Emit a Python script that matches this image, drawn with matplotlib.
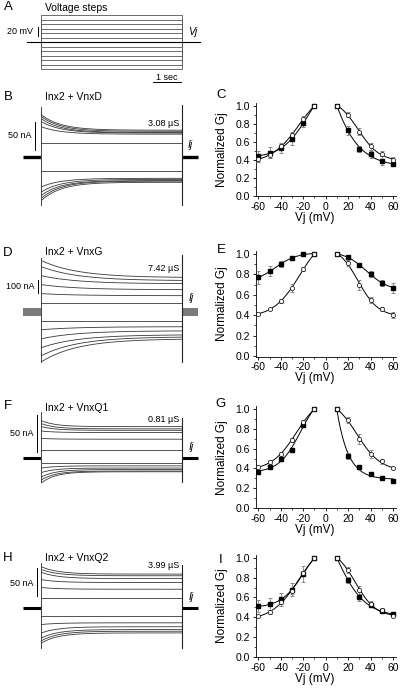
import numpy as np
import matplotlib
matplotlib.use('Agg')
import matplotlib.pyplot as plt
from matplotlib.ticker import MultipleLocator, FormatStrFormatter

plt.rcParams['font.family'] = ['Liberation Sans', 'DejaVu Sans']
plt.rcParams['axes.unicode_minus'] = False

# ---- data -------------------------------------------------------------
STEP_MV = [-60, -50, -40, -30, -20, -10, 10, 20, 30, 40, 50, 60]
VJ = [-60, -50, -40, -30, -20, -10, 10, 20, 30, 40, 50, 60]

# junctional currents (nA) at the end (ss) and start (pk) of the pulse, Vj = 10..60 mV
B_UP_SS = [25, 40, 42, 43, 45, 47]
B_UP_PK = [25, 53, 62, 67, 71, 74]
B_DN_SS = [-25, -38, -40, -42, -43, -45]
B_DN_PK = [-25, -53, -62, -68, -73, -77]

D_UP_SS = [71, 126, 173, 220, 244, 268]
D_UP_PK = [71, 142, 213, 283, 354, 402]
D_DN_SS = [-71, -118, -150, -181, -197, -213]
D_DN_PK = [-71, -142, -213, -283, -346, -394]

F_UP_SS = [11, 25, 34, 37, 39, 42]
F_UP_PK = [11, 26, 36, 42, 46, 50]
F_DN_SS = [-7, -11, -14, -16, -18, -19]
F_DN_PK = [-7, -14, -20, -26, -30, -34]

H_UP_SS = [18, 33, 45, 52, 57, 60]
H_UP_PK = [18, 36, 50, 63, 68, 73]
H_DN_SS = [-15, -27, -34, -39, -42, -45]
H_DN_PK = [-15, -30, -45, -54, -59, -63]

# normalized Gj: filled squares / open circles, with SEM
C_FILL = [0.44, 0.48, 0.53, 0.63, 0.81, 1.0, 1.0, 0.73, 0.52, 0.46, 0.39, 0.35]
C_FILL_ERR = [0.06, 0.06, 0.05, 0.07, 0.05, 0, 0, 0.05, 0.03, 0.04, 0.05, 0.02]
C_OPEN = [0.41, 0.45, 0.55, 0.68, 0.85, 1.0, 1.0, 0.90, 0.71, 0.55, 0.47, 0.40]
C_OPEN_ERR = [0.03, 0.03, 0.04, 0.03, 0.04, 0, 0, 0.03, 0.04, 0.04, 0.03, 0.03]

E_FILL = [0.77, 0.83, 0.90, 0.96, 1.0, 1.0, 1.0, 0.97, 0.89, 0.80, 0.72, 0.67]
E_FILL_ERR = [0.06, 0.05, 0.03, 0.02, 0.01, 0, 0, 0.01, 0.02, 0.03, 0.03, 0.05]
E_OPEN = [0.41, 0.46, 0.54, 0.67, 0.85, 1.0, 1.0, 0.91, 0.70, 0.55, 0.46, 0.40]
E_OPEN_ERR = [0.01, 0.01, 0.02, 0.04, 0.02, 0, 0, 0.03, 0.05, 0.03, 0.02, 0.03]

G_FILL = [0.36, 0.41, 0.49, 0.59, 0.84, 1.0, 1.0, 0.53, 0.41, 0.34, 0.30, 0.27]
G_FILL_ERR = [0.01, 0.01, 0.02, 0.02, 0.02, 0, 0, 0.03, 0.02, 0.02, 0.02, 0.01]
G_OPEN = [0.41, 0.46, 0.55, 0.69, 0.87, 1.0, 1.0, 0.89, 0.70, 0.55, 0.47, 0.40]
G_OPEN_ERR = [0.01, 0.02, 0.02, 0.02, 0.02, 0, 0, 0.03, 0.05, 0.04, 0.03, 0.01]

I_FILL = [0.51, 0.53, 0.58, 0.68, 0.84, 1.0, 1.0, 0.78, 0.60, 0.52, 0.46, 0.43]
I_FILL_ERR = [0.06, 0.06, 0.07, 0.07, 0.08, 0, 0, 0.03, 0.04, 0.02, 0.02, 0.02]
I_OPEN = [0.41, 0.45, 0.55, 0.67, 0.85, 1.0, 1.0, 0.88, 0.68, 0.53, 0.47, 0.41]
I_OPEN_ERR = [0.01, 0.02, 0.02, 0.03, 0.02, 0, 0, 0.03, 0.04, 0.03, 0.02, 0.01]

# ---- layout helpers ---------------------------------------------------
W, H = 400, 688
fig = plt.figure(figsize=(W / 100, H / 100), dpi=100)

T0_PX, PX_PER_S, PULSE_S = 41.5, 28.2, 5.0


def px_axes(l, t, r, b):
    return fig.add_axes([l / W, 1 - b / H, (r - l) / W, (b - t) / H])


def txt(x, y, s, size=7, **kw):
    fig.text(x / W, 1 - y / H, s, fontsize=size, va='center', **kw)


def trace_axes(top, bottom, y0_px, ppu):
    ax = px_axes(0, top, 210, bottom)
    ax.set_xlim(-T0_PX / PX_PER_S, (210 - T0_PX) / PX_PER_S)
    ax.set_ylim((y0_px - bottom) / ppu, (y0_px - top) / ppu)
    ax.axis('off')
    return ax


t = np.linspace(0, PULSE_S, 300)


def draw_currents(ax, up_ss, up_pk, dn_ss, dn_pk, tau, spans, base_kw, bar):
    for ss, pk in zip(up_ss + dn_ss, up_pk + dn_pk):
        ax.plot(t, ss + (pk - ss) * np.exp(-t / tau), color='#383838', lw=0.6)
    ax.plot([-0.656, 0], [0, 0], solid_capstyle='butt', **base_kw)
    ax.plot([PULSE_S, 5.55], [0, 0], solid_capstyle='butt', **base_kw)
    (l_hi, l_lo), (r_hi, r_lo) = spans
    ax.plot([0, 0], [l_lo, l_hi], color='#444', lw=0.7)
    ax.plot([PULSE_S, PULSE_S], [r_lo, r_hi], color='#222', lw=0.8)
    bx, blo, amt = bar
    ax.plot([bx, bx], [blo, blo + amt], color='k', lw=0.7)


# ---- panel A: voltage protocol -----------------------------------------
axA = trace_axes(2, 92, 42.3, 0.45)
for v in STEP_MV:
    axA.plot([0, 0, PULSE_S, PULSE_S], [0, v, v, 0], color='#555', lw=0.6)
axA.plot([-0.51, 5.62], [0, 0], color='k', lw=0.8)
axA.plot([-0.124, -0.124], [14, 34], color='k', lw=0.7)
axA.plot([3.95, 4.95], [-87.6, -87.6], color='k', lw=0.7)
txt(8, 7, 'A', size=9.5, ha='center')
txt(45, 8.3, 'Voltage steps', size=7.5)
txt(33, 31.7, '20 mV', size=6.5, ha='right')
txt(188, 31.7, 'Vj', size=7.5, style='italic')
txt(167, 77, '1 sec', size=6.5, ha='center')

# ---- current traces ------------------------------------------------------
thick_k = dict(color='k', lw=2.4)
axB = trace_axes(92, 212, 156.8, 0.566)
draw_currents(axB, B_UP_SS, B_UP_PK, B_DN_SS, B_DN_PK, 0.7,
              ((88, -85), (92, -85)), thick_k, (-0.23, 12, 50))
txt(8, 97, 'B', size=9.5, ha='center')
txt(45, 97, 'Inx2 + VnxD', size=7.5)
txt(179, 124, '3.08 µS', size=6.5, ha='right')
txt(32, 136, '50 nA', size=6.5, ha='right')
txt(188, 145, 'Ij', size=7.5, style='italic')

axD = trace_axes(248, 368, 311.7, 0.127)
draw_currents(axD, D_UP_SS, D_UP_PK, D_DN_SS, D_DN_PK, 1.3,
              ((423, -396), (447, -396)), dict(color='#7a7a7a', lw=5.8), (-0.124, 150, 100))
txt(8, 253, 'D', size=9.5, ha='center')
txt(45, 252, 'Inx2 + VnxG', size=7.5)
txt(179, 269, '7.42 µS', size=6.5, ha='right')
txt(34, 286, '100 nA', size=6.5, ha='right')
txt(189, 298, 'Ij', size=7.5, style='italic')

axF = trace_axes(402, 490, 457.7, 0.74)
draw_currents(axF, F_UP_SS, F_UP_PK, F_DN_SS, F_DN_PK, 0.5,
              ((62, -33), (54, -33)), dict(color='k', lw=2.2), (-0.16, 7.7, 50))
txt(8, 406, 'F', size=9.5, ha='center')
txt(45, 408, 'Inx2 + VnxQ1', size=7.5)
txt(179, 420, '0.81 µS', size=6.5, ha='right')
txt(33, 433, '50 nA', size=6.5, ha='right')
txt(189, 447, 'Ij', size=7.5, style='italic')

axH = trace_axes(552, 655, 607.7, 0.56)
draw_currents(axH, H_UP_SS, H_UP_PK, H_DN_SS, H_DN_PK, 0.6,
              ((80, -72), (76, -72)), dict(color='k', lw=2.2), (-0.17, 21, 50))
txt(8, 558, 'H', size=9.5, ha='center')
txt(45, 558, 'Inx2 + VnxQ2', size=7.5)
txt(179, 565, '3.99 µS', size=6.5, ha='right')
txt(33, 584, '50 nA', size=6.5, ha='right')
txt(189, 597, 'Ij', size=7.5, style='italic')


# ---- Gj-Vj plots ---------------------------------------------------------
def boltz_fit(v, g):
    # least-squares Boltzmann fit on a (V0, A) grid; Gmin/Gmax solved linearly
    x = np.abs(np.asarray(v, float))
    g = np.asarray(g, float)
    v0 = np.linspace(-30, 90, 241)[:, None, None]
    a = np.linspace(0.01, 0.5, 99)[None, :, None]
    f = 1 / (1 + np.exp(a * (x - v0)))
    fm = f.mean(-1, keepdims=True)
    gm = g.mean()
    var = ((f - fm) ** 2).sum(-1)
    cov = ((f - fm) * (g - gm)).sum(-1)
    c1 = cov / np.where(var > 1e-12, var, np.nan)
    c0 = gm - c1 * fm[..., 0]
    sse = ((g - c0[..., None] - c1[..., None] * f) ** 2).sum(-1)
    i, j = np.unravel_index(np.nanargmin(sse), sse.shape)
    xs = np.linspace(x.min(), x.max(), 120)
    return xs, c0[i, j] + c1[i, j] / (1 + np.exp(a[0, j, 0] * (xs - v0[i, 0, 0])))


def gj_panel(y1_px, y0_px, fill, fill_err, opn, opn_err):
    per = y0_px - y1_px
    top, bot = y1_px - 0.03 * per, y0_px + 0.005 * per
    ax = px_axes(255.7, top, 395.7, bot)
    ax.set_xlim(-62.3, 62.4)
    ax.set_ylim(-0.005, 1.03)
    v = np.array(VJ)
    for g in (fill, opn):
        g = np.array(g)
        for side in (v < 0, v > 0):
            xs, ys = boltz_fit(v[side], g[side])
            sgn = -1 if v[side][0] < 0 else 1
            ax.plot(sgn * xs, ys, color='k', lw=0.7, zorder=2)
    ax.errorbar(v, fill, yerr=fill_err, fmt='none', ecolor='#7a7a7a',
                elinewidth=0.6, capsize=1.5, capthick=0.6, zorder=3)
    ax.errorbar(v, opn, yerr=opn_err, fmt='none', ecolor='#7a7a7a',
                elinewidth=0.6, capsize=1.5, capthick=0.6, zorder=3)
    ax.plot(v, fill, 's', color='k', ms=3.0, zorder=4)
    ax.plot(v, opn, 'o', mfc='white', mec='k', mew=0.5, ms=3.0, zorder=5)
    for s in ('top', 'right'):
        ax.spines[s].set_visible(False)
    for s in ('left', 'bottom'):
        ax.spines[s].set_linewidth(0.6)
    ax.xaxis.set_major_locator(MultipleLocator(20))
    ax.xaxis.set_minor_locator(MultipleLocator(10))
    ax.yaxis.set_major_locator(MultipleLocator(0.2))
    ax.yaxis.set_minor_locator(MultipleLocator(0.1))
    ax.yaxis.set_major_formatter(FormatStrFormatter('%.1f'))
    ax.tick_params(which='major', direction='out', length=2.5, width=0.6,
                   labelsize=7.5, pad=1.5)
    ax.tick_params(which='minor', direction='out', length=1.5, width=0.5)
    hgt = bot - top
    ax.set_xlabel('Vj (mV)', fontsize=8.5, va='center')
    ax.xaxis.set_label_coords(0.42, -(y0_px + 22 - bot) / hgt)
    ax.set_ylabel('Normalized Gj', fontsize=8.5, va='center')
    ax.yaxis.set_label_coords((222 - 255.7) / 140, 0.5)
    return ax


gj_panel(105.7, 196, C_FILL, C_FILL_ERR, C_OPEN, C_OPEN_ERR)
gj_panel(254, 356, E_FILL, E_FILL_ERR, E_OPEN, E_OPEN_ERR)
gj_panel(409.3, 507.7, G_FILL, G_FILL_ERR, G_OPEN, G_OPEN_ERR)
gj_panel(558, 656.7, I_FILL, I_FILL_ERR, I_OPEN, I_OPEN_ERR)
txt(221, 95, 'C', size=9.5, ha='center')
txt(221, 250, 'E', size=9.5, ha='center')
txt(221, 404, 'G', size=9.5, ha='center')
txt(221, 560, 'I', size=9.5, ha='center')

fig.savefig('out.png', dpi=100)
